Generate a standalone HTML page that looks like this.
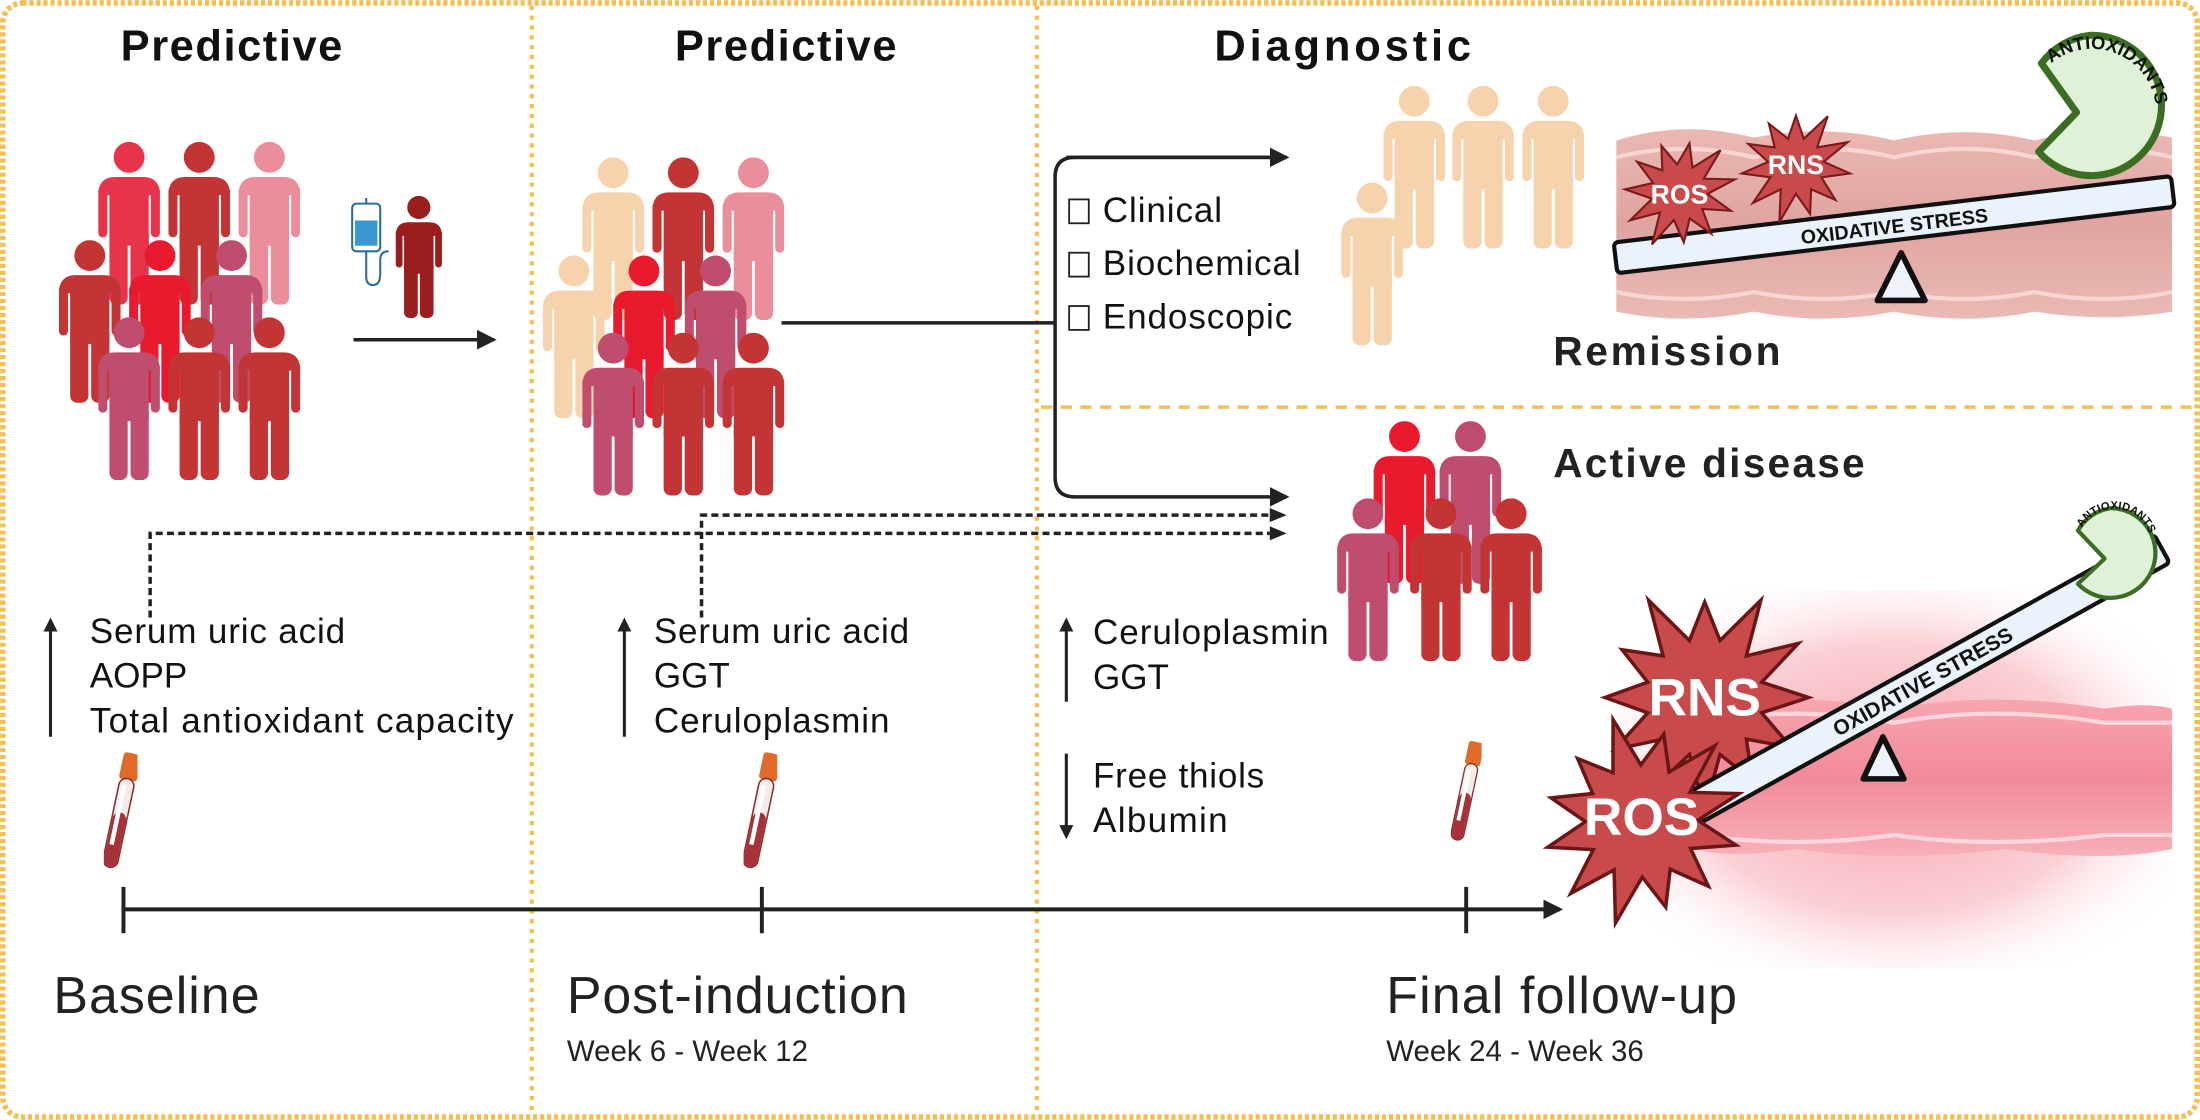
<!DOCTYPE html>
<html><head><meta charset="utf-8"><style>
html,body{margin:0;padding:0;background:#fff;}
svg{display:block;}
text{font-family:"Liberation Sans",sans-serif;}
</style></head><body>
<svg width="2200" height="1120" viewBox="0 0 1568 798" xmlns="http://www.w3.org/2000/svg">
<defs>
<symbol id="p" viewBox="0 0 44 116">
<circle cx="22" cy="11" r="11"/>
<path d="M0,38 Q0,25 12,25 L32,25 Q44,25 44,38 Z"/>
<rect x="0" y="32" width="6.5" height="36" rx="3.2"/>
<rect x="37.5" y="32" width="6.5" height="36" rx="3.2"/>
<rect x="8" y="30" width="28" height="44"/>
<rect x="8" y="62" width="13" height="54" rx="5"/>
<rect x="23" y="62" width="13" height="54" rx="5"/>
</symbol>
<symbol id="tube" viewBox="0 0 20 80">
<g transform="rotate(12 10 40)">
<rect x="4" y="0" width="12" height="18" rx="2" fill="#e06a2a"/>
<rect x="5" y="17" width="10" height="60" rx="5" fill="#f3ece8" stroke="#8a2a2a" stroke-width="1"/>
<rect x="5.5" y="40" width="9" height="37" rx="4.5" fill="#a8323a"/>
<rect x="7" y="22" width="3" height="40" fill="#fff"/>
</g>
</symbol>
<marker id="ah" markerWidth="10" markerHeight="10" refX="8" refY="5" orient="auto" markerUnits="userSpaceOnUse"><path d="M0,0 L10,5 L0,10 Z" fill="#222"/></marker>
<marker id="ah2" markerWidth="14" markerHeight="14" refX="12" refY="7" orient="auto" markerUnits="userSpaceOnUse"><path d="M0,0 L14,7 L0,14 Z" fill="#222"/></marker>
<linearGradient id="gut" x1="0" y1="0" x2="0" y2="1">
<stop offset="0" stop-color="#e8b0aa"/><stop offset="0.5" stop-color="#dc9a96"/><stop offset="1" stop-color="#e8b2ac"/></linearGradient>
<linearGradient id="gut2" x1="0" y1="0" x2="0" y2="1">
<stop offset="0" stop-color="#f7a6b0"/><stop offset="0.5" stop-color="#f28a98"/><stop offset="1" stop-color="#f7b0b8"/></linearGradient>
<radialGradient id="glow" cx="0.5" cy="0.5" r="0.6">
<stop offset="0" stop-color="#f7a5b0"/><stop offset="0.6" stop-color="#fbd0d6"/><stop offset="1" stop-color="#fff" stop-opacity="0"/></radialGradient>
</defs>

<rect width="1568" height="798" fill="#fff"/>
<rect x="2" y="2" width="1564" height="794" rx="14" fill="none" stroke="#f5bf55" stroke-width="4" stroke-dasharray="3 2"/>
<line x1="379" y1="4" x2="379" y2="794" stroke="#f5bf55" stroke-width="3" stroke-dasharray="3 4"/>
<line x1="739" y1="4" x2="739" y2="794" stroke="#f5bf55" stroke-width="3" stroke-dasharray="3 4"/>
<line x1="742" y1="290" x2="1564" y2="290" stroke="#f5bf55" stroke-width="2.5" stroke-dasharray="8 6"/>

<text x="165" y="43" font-size="31" font-weight="bold" text-anchor="middle" fill="#111" textLength="158">Predictive</text>
<text x="560" y="43" font-size="31" font-weight="bold" text-anchor="middle" fill="#111" textLength="158">Predictive</text>
<text x="957" y="43" font-size="31" font-weight="bold" text-anchor="middle" fill="#111" textLength="183">Diagnostic</text>

<use href="#p" x="70" y="101" width="44" height="116" fill="#e8344a"/>
<use href="#p" x="120" y="101" width="44" height="116" fill="#c33535"/>
<use href="#p" x="170" y="101" width="44" height="116" fill="#e98e9a"/>
<use href="#p" x="42" y="171" width="44" height="116" fill="#c33535"/>
<use href="#p" x="92" y="171" width="44" height="116" fill="#e81a2e"/>
<use href="#p" x="143" y="171" width="44" height="116" fill="#bf4e6e"/>
<use href="#p" x="70" y="226" width="44" height="116" fill="#bf4e6e"/>
<use href="#p" x="120" y="226" width="44" height="116" fill="#c33535"/>
<use href="#p" x="170" y="226" width="44" height="116" fill="#c33535"/>

<g stroke="#2f6e94" stroke-width="1.5" fill="none">
<rect x="251" y="145" width="20" height="34" rx="3" fill="#fff"/>
<rect x="253" y="157" width="16" height="18" fill="#3b97d0" stroke="none"/>
<path d="M261,145 v-4"/>
<path d="M261,179 v8 M261,187 v10 q0,6 5,6 q5,0 5,-8 v-10 q0,-6 6,-6"/>
</g>
<use href="#p" x="282" y="139" width="33" height="88" fill="#9b1e1e"/>
<line x1="252" y1="242" x2="352" y2="242" stroke="#222" stroke-width="2.5" marker-end="url(#ah2)"/>

<use href="#p" x="415" y="112" width="44" height="116" fill="#f6d3ad"/>
<use href="#p" x="465" y="112" width="44" height="116" fill="#c33535"/>
<use href="#p" x="515" y="112" width="44" height="116" fill="#e98e9a"/>
<use href="#p" x="387" y="182" width="44" height="116" fill="#f6d3ad"/>
<use href="#p" x="437" y="182" width="44" height="116" fill="#e81a2e"/>
<use href="#p" x="488" y="182" width="44" height="116" fill="#bf4e6e"/>
<use href="#p" x="415" y="237" width="44" height="116" fill="#bf4e6e"/>
<use href="#p" x="465" y="237" width="44" height="116" fill="#c33535"/>
<use href="#p" x="515" y="237" width="44" height="116" fill="#c33535"/>

<g stroke="#222" stroke-width="2.5" fill="none">
<line x1="557" y1="230" x2="752" y2="230"/>
<path d="M917,112 L766,112 Q752,112 752,126 L752,340 Q752,354 766,354 L917,354" marker-end="url(#ah2)"/>
<line x1="760" y1="112" x2="917" y2="112" marker-end="url(#ah2)"/>
</g>
<g font-size="25" fill="#111">
<rect x="762" y="142" width="14" height="17" fill="none" stroke="#222" stroke-width="1.3"/>
<text x="786" y="158" textLength="85">Clinical</text>
<rect x="762" y="180" width="14" height="17" fill="none" stroke="#222" stroke-width="1.3"/>
<text x="786" y="196" textLength="141">Biochemical</text>
<rect x="762" y="218" width="14" height="17" fill="none" stroke="#222" stroke-width="1.3"/>
<text x="786" y="234" textLength="135">Endoscopic</text>
</g>

<use href="#p" x="986" y="61" width="44" height="116" fill="#f6d3ad"/>
<use href="#p" x="1035" y="61" width="44" height="116" fill="#f6d3ad"/>
<use href="#p" x="1085" y="61" width="44" height="116" fill="#f6d3ad"/>
<use href="#p" x="956" y="130" width="44" height="116" fill="#f6d3ad"/>

<g>
<path d="M1152,100 Q1200,85 1250,98 Q1300,88 1350,100 Q1400,88 1450,100 Q1500,88 1548,98 L1548,222 Q1500,230 1450,222 Q1400,232 1350,222 Q1300,232 1250,222 Q1200,232 1152,222 Z" fill="url(#gut)" opacity="0.9"/>
<path d="M1152,112 Q1200,100 1250,112 Q1300,100 1350,112 Q1400,100 1450,112 Q1500,100 1548,112" stroke="#f7d6d2" stroke-width="3" fill="none"/>
<path d="M1152,208 Q1200,218 1250,208 Q1300,218 1350,208 Q1400,218 1450,208 Q1500,218 1548,208" stroke="#f7d6d2" stroke-width="3" fill="none"/>
</g>
<polygon points="1355,180 1338,214 1372,214" fill="#eef3fb" stroke="#111" stroke-width="4" stroke-linejoin="round"/>
<g transform="rotate(-6.8 1350 160)">
<rect x="1150" y="149" width="400" height="22" rx="3" fill="#eaf2fb" stroke="#111" stroke-width="3"/>
<text x="1350" y="166" font-size="14" font-weight="bold" text-anchor="middle" fill="#111">OXIDATIVE STRESS</text>
</g>
<polygon id="s1" fill="#c94a4a" stroke="#7a1a1a" stroke-width="1.5"/>
<polygon id="s2" fill="#c94a4a" stroke="#7a1a1a" stroke-width="1.5"/>
<text x="1197" y="145" font-size="19" font-weight="bold" fill="#fff" text-anchor="middle">ROS</text>
<text x="1280" y="124" font-size="19" font-weight="bold" fill="#fff" text-anchor="middle">RNS</text>
<path d="M1490,25 A50,50 0 1 1 1453,108 L1480,80 L1455,45 A50,50 0 0 1 1490,25 Z" fill="#dff2d8" stroke="#3b6e22" stroke-width="5" stroke-linejoin="round"/>
<path id="arc1" d="M1462,45 A40,40 0 0 1 1520,116" fill="none"/>
<text font-size="13" font-weight="bold" fill="#111"><textPath href="#arc1">ANTIOXIDANTS</textPath></text>

<text x="1107" y="260" font-size="29" font-weight="bold" fill="#222" textLength="162">Remission</text>
<text x="1107" y="340" font-size="29" font-weight="bold" fill="#222" textLength="222">Active disease</text>

<use href="#p" x="979" y="300" width="44" height="116" fill="#e81a2e"/>
<use href="#p" x="1026" y="300" width="44" height="116" fill="#bf4e6e"/>
<use href="#p" x="953" y="355" width="44" height="116" fill="#bf4e6e"/>
<use href="#p" x="1005" y="355" width="44" height="116" fill="#c33535"/>
<use href="#p" x="1055" y="355" width="44" height="116" fill="#c33535"/>

<g stroke="#222" stroke-width="2.5" fill="none" stroke-dasharray="5 3">
<path d="M107,440 V380 H905"/>
<path d="M500,440 V367 H905"/>
</g>
<path d="M905,362 L917,367 L905,372 Z M905,375 L917,380 L905,385 Z" fill="#222"/>

<rect x="1150" y="420" width="400" height="270" fill="url(#glow)"/>
<g>
<path d="M1210,505 Q1280,492 1350,505 Q1420,492 1500,505 Q1530,500 1548,505 L1548,605 Q1500,615 1430,605 Q1350,615 1280,605 Q1230,612 1210,605 Z" fill="url(#gut2)"/>
<path d="M1210,515 Q1280,502 1350,515 Q1420,502 1500,515 L1548,515" stroke="#fcd6dc" stroke-width="3" fill="none"/>
<path d="M1210,595 Q1280,605 1350,595 Q1420,605 1500,595 L1548,595" stroke="#fcd6dc" stroke-width="3" fill="none"/>
</g>
<polygon points="1342,525 1328,555 1357,555" fill="#eef3fb" stroke="#111" stroke-width="4" stroke-linejoin="round"/>
<polygon id="s3" fill="#c94a4a" stroke="#6a1616" stroke-width="2.5"/>
<g transform="rotate(-29 1370 485)">
<rect x="1175" y="474" width="390" height="23" rx="3" fill="#eaf2fb" stroke="#111" stroke-width="3"/>
<text x="1370" y="491" font-size="15" font-weight="bold" text-anchor="middle" fill="#111">OXIDATIVE STRESS</text>
</g>
<polygon id="s4" fill="#c94a4a" stroke="#6a1616" stroke-width="2.5"/>
<text x="1215" y="510" font-size="38" font-weight="bold" fill="#fff" text-anchor="middle">RNS</text>
<text x="1170" y="595" font-size="38" font-weight="bold" fill="#fff" text-anchor="middle">ROS</text>
<path d="M1505,362 A32,32 0 1 1 1481,416 L1500,398 L1481,378 A32,32 0 0 1 1505,362 Z" fill="#dff2d8" stroke="#3b6e22" stroke-width="3" stroke-linejoin="round"/>
<path id="arc2" d="M1484,376 A24,24 0 0 1 1530,402" fill="none"/>
<text font-size="8" font-weight="bold" fill="#111"><textPath href="#arc2">ANTIOXIDANTS</textPath></text>

<g stroke="#222" stroke-width="2.2">
<line x1="36" y1="525" x2="36" y2="442" marker-end="url(#ah)"/>
<line x1="445" y1="525" x2="445" y2="442" marker-end="url(#ah)"/>
<line x1="760" y1="500" x2="760" y2="442" marker-end="url(#ah)"/>
<line x1="760" y1="537" x2="760" y2="596" marker-end="url(#ah)"/>
</g>
<g font-size="25" fill="#111">
<text x="64" y="458" textLength="182">Serum uric acid</text>
<text x="64" y="490">AOPP</text>
<text x="64" y="522" textLength="302">Total antioxidant capacity</text>
<text x="466" y="458" textLength="182">Serum uric acid</text>
<text x="466" y="490">GGT</text>
<text x="466" y="522" textLength="168">Ceruloplasmin</text>
<text x="779" y="459" textLength="168">Ceruloplasmin</text>
<text x="779" y="491">GGT</text>
<text x="779" y="561" textLength="122">Free thiols</text>
<text x="779" y="593" textLength="96">Albumin</text>
</g>
<use href="#tube" x="74" y="536" width="24" height="86"/>
<use href="#tube" x="530" y="536" width="24" height="86"/>
<use href="#tube" x="1034" y="528" width="22" height="74"/>

<g stroke="#222" stroke-width="2.8">
<line x1="88" y1="648" x2="1112" y2="648" marker-end="url(#ah2)"/>
<line x1="88" y1="632" x2="88" y2="665"/>
<line x1="543" y1="632" x2="543" y2="665"/>
<line x1="1045" y1="632" x2="1045" y2="665"/>
</g>
<text x="38" y="722" font-size="37" fill="#222" textLength="147">Baseline</text>
<text x="404" y="722" font-size="37" fill="#222" textLength="243">Post-induction</text>
<text x="404" y="756" font-size="21" fill="#222">Week 6 - Week 12</text>
<text x="988" y="722" font-size="37" fill="#222" textLength="250">Final follow-up</text>
<text x="988" y="756" font-size="21" fill="#222">Week 24 - Week 36</text>

<script>
function star(id,cx,cy,ro,ri,n,rot){var p=[];for(var i=0;i<2*n;i++){var r=(i%2==0)?ro*(0.85+0.15*((i*7)%5)/4):ri;var a=rot+Math.PI*i/n;p.push((cx+r*Math.sin(a)).toFixed(1)+","+(cy-r*Math.cos(a)).toFixed(1));}document.getElementById(id).setAttribute("points",p.join(" "));}
star("s1",1197,137,42,20,11,0.2);
star("s2",1280,118,42,20,11,0);
star("s3",1215,497,80,42,12,0);
star("s4",1170,585,75,40,12,0.25);
</script>
</svg>
</body></html>
